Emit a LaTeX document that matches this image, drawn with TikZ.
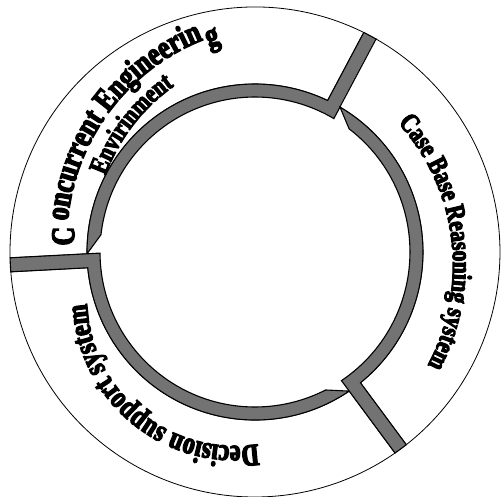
\documentclass[tikz,border=0pt]{standalone}
\usepackage{fontspec}
\setmainfont{Liberation Serif}
\newfontfamily\ringfont[FakeStretch=0.78, FakeBold=4]{Liberation Serif Bold}
\usetikzlibrary{decorations.text}

\begin{document}
\begin{tikzpicture}[x=1pt, y=1pt,
    segment/.style={draw=black, line width=0.8pt, fill=white},
    band/.style={draw=black, line width=1.1pt, fill=black!55},
    ringtext/.style={decorate, decoration={text along path, text align=center, text={#1}}},
]
    \useasboundingbox (-255,-244) rectangle (249,252);
    \foreach \g/\d in {62/121, 183/123.5, 306.5/115.5} {
        \begin{scope}[rotate=\g]
            \path[segment] (1.64:245) arc[start angle=1.64, end angle={\d-1.64}, radius=245]
                -- ({\d-2.39}:168) arc[start angle={\d-2.39}, end angle=2.39, radius=168] -- cycle;
            \path[band] (-1.64:245) -- (-2.59:155) arc[start angle=-2.59, end angle={\d-9.4}, radius=155]
                -- ({\d-2.39}:168) arc[start angle={\d-2.39}, end angle=2.39, radius=168]
                -- (1.64:245) arc[start angle=1.64, end angle=-1.64, radius=245] -- cycle;
        \end{scope}
    }
    \begin{scope}[shift={(27,12)}]
        \path[ringtext={|\ringfont\fontsize{33}{33}\selectfont|C}]
            (184:208) arc[start angle=184, end angle=174, radius=208];
        \path[ringtext={|\ringfont\fontsize{33}{33}\selectfont|oncurrent Engineerin}]
            (178.2:215) arc[start angle=178.2, end angle=108.2, radius=215];
        \path[ringtext={|\ringfont\fontsize{33}{33}\selectfont|g}]
            (114:206) arc[start angle=114, end angle=104, radius=206];
        \path[ringtext={|\ringfont\fontsize{27}{27}\selectfont|Envirinment}]
            (172.5:188) arc[start angle=172.5, end angle=112.5, radius=188];
    \end{scope}
    \path[ringtext={|\ringfont\fontsize{27.5}{27.5}\selectfont|Case Base Reasoning system}, shift={(-13,-13)}]
        (47:211) arc[start angle=47, end angle=-33, radius=211];
    \path[ringtext={|\ringfont\fontsize{31}{31}\selectfont|Decision support system}, shift={(-20,-46)}]
        (-79.45:148) arc[start angle=-79.45, end angle=-179.45, radius=148];
\end{tikzpicture}
\end{document}
